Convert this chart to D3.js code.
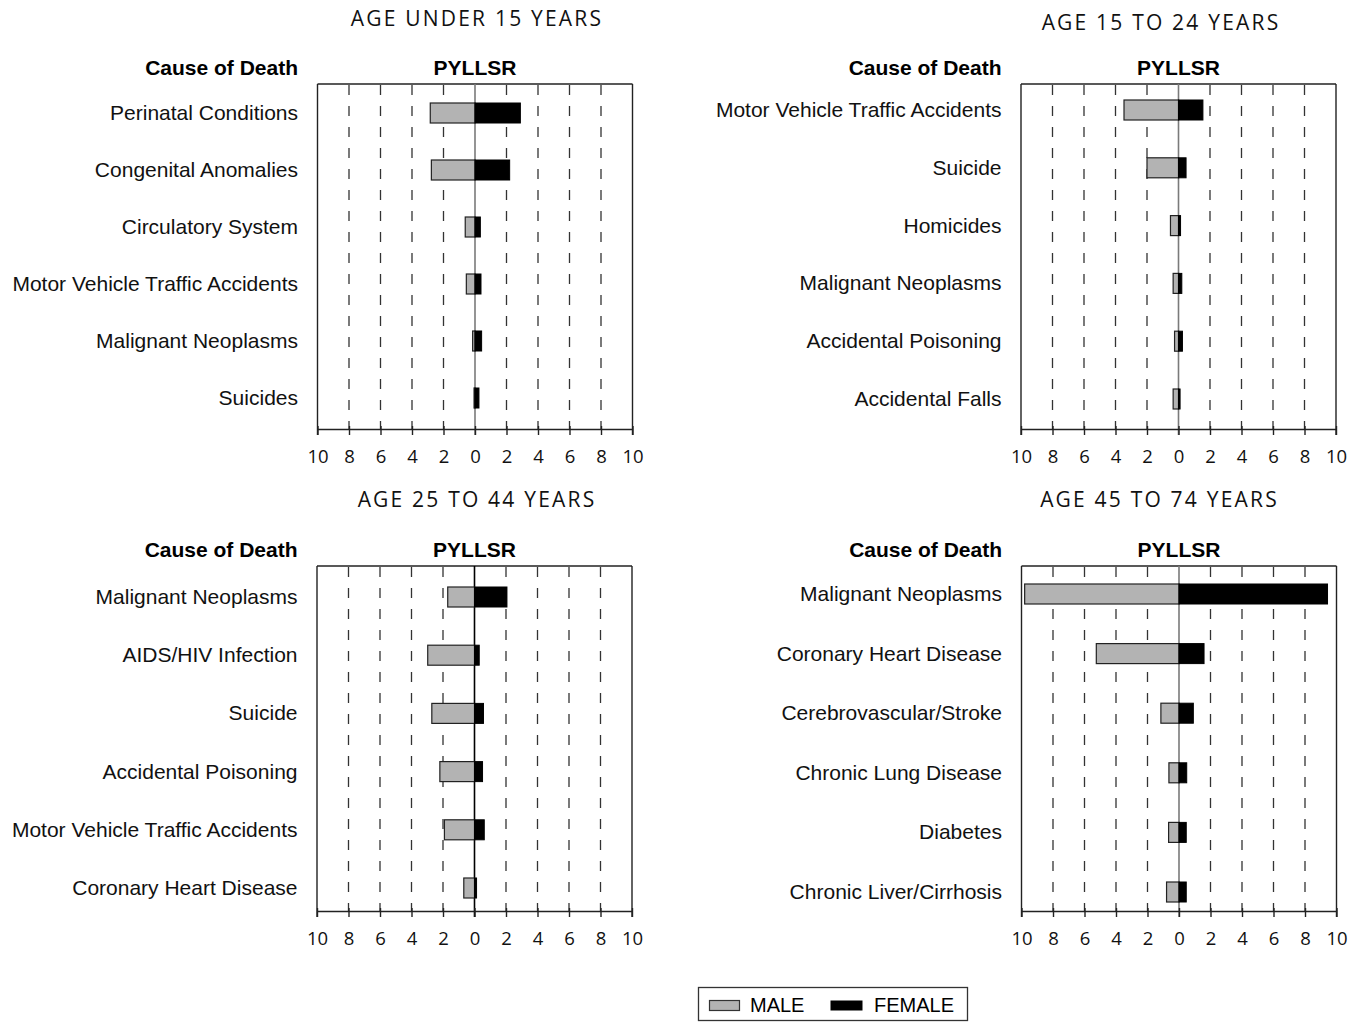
<!DOCTYPE html>
<html>
<head>
<meta charset="utf-8">
<script src="https://cdn.jsdelivr.net/npm/d3@7"></script>
<style>
  html, body { margin: 0; padding: 0; background: #fff; }
  svg { display: block; }
</style>
</head>
<body>
<svg id="chart" width="1364" height="1022"></svg>
<script>
// ---------------- DATA ----------------
const panelTitles = ["AGE UNDER 15 YEARS", "AGE 15 TO 24 YEARS", "AGE 25 TO 44 YEARS", "AGE 45 TO 74 YEARS"];
const causeHeader = "Cause of Death";
const valueHeader = "PYLLSR";
const seriesNames = ["MALE", "FEMALE"];
const tickValues = [-10, -8, -6, -4, -2, 0, 2, 4, 6, 8, 10];

const causesUnder15 = ["Perinatal Conditions", "Congenital Anomalies", "Circulatory System",
  "Motor Vehicle Traffic Accidents", "Malignant Neoplasms", "Suicides"];
const maleUnder15 = [2.84, 2.77, 0.62, 0.55, 0.15, 0.06];
const femaleUnder15 = [2.88, 2.2, 0.34, 0.38, 0.42, 0.25];

const causes15to24 = ["Motor Vehicle Traffic Accidents", "Suicide", "Homicides",
  "Malignant Neoplasms", "Accidental Poisoning", "Accidental Falls"];
const male15to24 = [3.46, 2.0, 0.51, 0.34, 0.25, 0.34];
const female15to24 = [1.55, 0.48, 0.13, 0.21, 0.25, 0.1];

const causes25to44 = ["Malignant Neoplasms", "AIDS/HIV Infection", "Suicide",
  "Accidental Poisoning", "Motor Vehicle Traffic Accidents", "Coronary Heart Disease"];
const male25to44 = [1.7, 2.97, 2.71, 2.2, 1.91, 0.68];
const female25to44 = [2.06, 0.3, 0.57, 0.51, 0.62, 0.13];

const causes45to74 = ["Malignant Neoplasms", "Coronary Heart Disease", "Cerebrovascular/Stroke",
  "Chronic Lung Disease", "Diabetes", "Chronic Liver/Cirrhosis"];
const male45to74 = [9.8, 5.25, 1.15, 0.64, 0.66, 0.79];
const female45to74 = [9.43, 1.59, 0.91, 0.49, 0.46, 0.46];

// ---------------- LAYOUT ----------------
const W = 315, H = 345;
const panels = [
  { title: panelTitles[0], causes: causesUnder15, male: maleUnder15, female: femaleUnder15,
    x0: 317.5, y0: 84, titleX: 477, titleY: 25.5, r0: 29, r1: 314, zeroColor: "#7a7a7a" },
  { title: panelTitles[1], causes: causes15to24, male: male15to24, female: female15to24,
    x0: 1021, y0: 84, titleX: 1161, titleY: 30, r0: 26, r1: 315, zeroColor: "#7a7a7a" },
  { title: panelTitles[2], causes: causes25to44, male: male25to44, female: female25to44,
    x0: 317, y0: 566, titleX: 477, titleY: 507, r0: 31, r1: 322, zeroColor: "#000" },
  { title: panelTitles[3], causes: causes45to74, male: male45to74, female: female45to74,
    x0: 1021.5, y0: 566, titleX: 1159.5, titleY: 506.5, r0: 28, r1: 326, zeroColor: "#7a7a7a" }
];

const svg = d3.select("#chart");
const labelFont = "'Liberation Sans', Arial, Helvetica, sans-serif";
const humanFont = "'Open Sans', 'Noto Sans', sans-serif";

panels.forEach(p => {
  const g = svg.append("g");
  const x = d3.scaleLinear().domain([-10, 10]).range([p.x0, p.x0 + W]);
  const y = d3.scalePoint().domain(p.causes).range([p.y0 + p.r0, p.y0 + p.r1]);
  const yb = p.y0 + H;

  // title
  g.append("text")
    .attr("x", p.titleX).attr("y", p.titleY)
    .attr("text-anchor", "middle")
    .style("font-family", humanFont).style("font-size", "21px")
    .style("letter-spacing", "2.2px")
    .attr("fill", "#111")
    .text(p.title);

  // headers
  g.append("text")
    .attr("x", p.x0 - 19.5).attr("y", p.y0 - 9)
    .attr("text-anchor", "end")
    .style("font-family", labelFont).style("font-size", "21px").style("font-weight", "bold")
    .text(causeHeader);
  g.append("text")
    .attr("x", x(0)).attr("y", p.y0 - 9)
    .attr("text-anchor", "middle")
    .style("font-family", labelFont).style("font-size", "21px").style("font-weight", "bold")
    .text(valueHeader);

  // dashed gridlines
  g.selectAll("line.grid")
    .data(tickValues.filter(v => v !== 0 && Math.abs(v) !== 10))
    .enter().append("line")
    .attr("x1", d => x(d)).attr("x2", d => x(d))
    .attr("y1", p.y0 + 1).attr("y2", yb)
    .attr("stroke", "#333").attr("stroke-width", 1.3)
    .attr("stroke-dasharray", "10,11");

  // frame: top, left, right
  g.append("line").attr("x1", p.x0).attr("x2", p.x0 + W).attr("y1", p.y0).attr("y2", p.y0)
    .attr("stroke", "#222").attr("stroke-width", 1.4);
  g.append("line").attr("x1", p.x0).attr("x2", p.x0).attr("y1", p.y0).attr("y2", yb + 6)
    .attr("stroke", "#222").attr("stroke-width", 1.4);
  g.append("line").attr("x1", p.x0 + W).attr("x2", p.x0 + W).attr("y1", p.y0).attr("y2", yb + 6)
    .attr("stroke", "#222").attr("stroke-width", 1.4);

  // zero line
  g.append("line").attr("x1", x(0)).attr("x2", x(0)).attr("y1", p.y0).attr("y2", yb + 6)
    .attr("stroke", p.zeroColor).attr("stroke-width", 1.6);

  // axis
  const axis = d3.axisBottom(x).tickValues(tickValues).tickSizeInner(6).tickSizeOuter(0)
    .tickFormat(d => Math.abs(d));
  const ag = g.append("g").attr("transform", `translate(0,${yb})`).call(axis);
  ag.select(".domain").attr("stroke", "#222").attr("stroke-width", 1.6);
  ag.selectAll(".tick line").attr("y1", -3).attr("y2", 6).attr("stroke", "#222").attr("stroke-width", 1.4);
  ag.selectAll(".tick text")
    .attr("y", 34).attr("dy", 0)
    .style("font-family", humanFont).style("font-size", "18.5px").attr("fill", "#111");

  // category labels
  g.selectAll("text.cat")
    .data(p.causes).enter().append("text")
    .attr("x", p.x0 - 19.5).attr("y", d => y(d) + 7)
    .attr("text-anchor", "end")
    .style("font-family", labelFont).style("font-size", "21px")
    .attr("fill", "#111")
    .text(d => d);

  // bars
  const bh = 20;
  g.selectAll("rect.male")
    .data(p.causes.map((c, i) => ({ c, v: p.male[i] }))).enter().append("rect")
    .attr("x", d => x(-d.v)).attr("y", d => y(d.c) - bh / 2)
    .attr("width", d => x(0) - x(-d.v)).attr("height", bh)
    .attr("fill", "#b3b3b3").attr("stroke", "#222").attr("stroke-width", 1.2);
  g.selectAll("rect.female")
    .data(p.causes.map((c, i) => ({ c, v: p.female[i] }))).enter().append("rect")
    .attr("x", x(0)).attr("y", d => y(d.c) - bh / 2)
    .attr("width", d => x(d.v) - x(0)).attr("height", bh)
    .attr("fill", "#000").attr("stroke", "#000").attr("stroke-width", 1);
});

// ---------------- LEGEND ----------------
const lg = svg.append("g");
lg.append("rect").attr("x", 698.5).attr("y", 987.5).attr("width", 269).attr("height", 33)
  .attr("fill", "#fff").attr("stroke", "#333").attr("stroke-width", 1.3);
lg.append("rect").attr("x", 709.5).attr("y", 1000.5).attr("width", 30).attr("height", 10)
  .attr("fill", "#b3b3b3").attr("stroke", "#333").attr("stroke-width", 1.2);
lg.append("text").attr("x", 750).attr("y", 1012)
  .style("font-family", labelFont).style("font-size", "20px").text(seriesNames[0]);
lg.append("rect").attr("x", 830.5).attr("y", 1000.5).attr("width", 32).attr("height", 10)
  .attr("fill", "#000");
lg.append("text").attr("x", 874).attr("y", 1012)
  .style("font-family", labelFont).style("font-size", "20px").text(seriesNames[1]);
</script>
</body>
</html>
